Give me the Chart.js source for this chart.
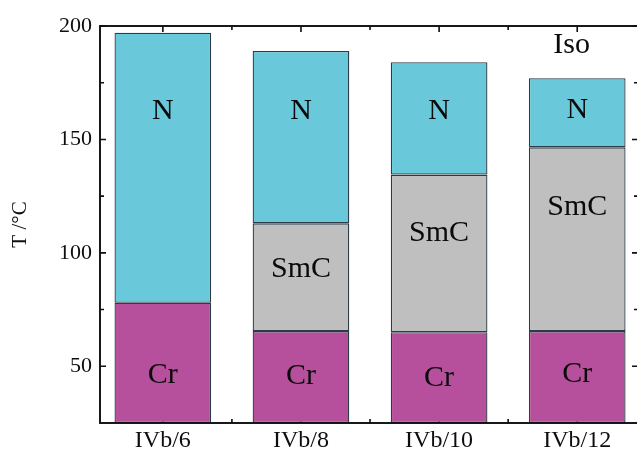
<!DOCTYPE html>
<html>
<head>
<meta charset="utf-8">
<script src="https://cdn.jsdelivr.net/npm/chart.js@4.4.1/dist/chart.umd.min.js"></script>
<style>
  html, body { margin: 0; padding: 0; background: #ffffff; overflow: hidden; width: 637px; height: 450px; }
  canvas { display: block; }
</style>
</head>
<body>
<canvas id="c" width="646" height="450"></canvas>
<script>
// ---- data ----
const categories = ['IVb/6', 'IVb/8', 'IVb/10', 'IVb/12'];
const categoryX = [1, 2, 3, 4];
const baseT = 25;                        // bottom of the axis (bars start here)
const crTop = [78, 65.5, 65, 65.5];      // Cr -> next phase (°C)
const smcTop = [null, 113, 134.5, 146.5]; // SmC -> N (°C)
const nTop = [197, 189, 184, 177];       // N -> Iso (°C)
const yTicks = [50, 100, 150, 200];
const yMinorTicks = [75, 125, 175];
// where each phase label sits (temperature, °C)
const crLabelAt = [46, 45.5, 45, 46.5];
const smcLabelAt = [null, 93, 108.5, 120];
const nLabelAt = [162.5, 162.5, 162.5, 163];
const isoLabel = { text: 'Iso', x: 3.96, t: 191.5 };

// ---- build floating bars ----
const crData = categoryX.map((x, i) => ({ x, y: [baseT, crTop[i]] }));
const smcData = categoryX.map((x, i) => ({ x, y: smcTop[i] == null ? null : [crTop[i], smcTop[i]] }));
const nData = categoryX.map((x, i) => ({ x, y: [smcTop[i] == null ? crTop[i] : smcTop[i], nTop[i]] }));

const SERIF = '"Liberation Serif", "DejaVu Serif", serif';
const INK = '#0e0e0e';
const BORDER = '#2c3c46';

const phaseLabels = [
  { text: 'Cr', at: crLabelAt },
  { text: 'SmC', at: smcLabelAt },
  { text: 'N', at: nLabelAt }
];

const framePlugin = {
  id: 'frame',
  beforeDatasetsDraw(chart) {
    const { ctx, chartArea: a, scales: { x, y } } = chart;
    ctx.save();
    ctx.strokeStyle = INK;
    ctx.lineWidth = 1.6;
    ctx.beginPath();
    yTicks.forEach(v => {
      const py = y.getPixelForValue(v);
      ctx.moveTo(a.left, py); ctx.lineTo(a.left + 6, py);
      ctx.moveTo(a.right, py); ctx.lineTo(a.right - 6, py);
    });
    yMinorTicks.forEach(v => {
      const py = y.getPixelForValue(v);
      ctx.moveTo(a.left, py); ctx.lineTo(a.left + 4, py);
      ctx.moveTo(a.right, py); ctx.lineTo(a.right - 4, py);
    });
    categoryX.forEach(v => {
      const px = x.getPixelForValue(v);
      ctx.moveTo(px, a.top); ctx.lineTo(px, a.top + 6);
      ctx.moveTo(px, a.bottom); ctx.lineTo(px, a.bottom - 6);
    });
    categoryX.slice(0, -1).forEach(v => {
      const px = x.getPixelForValue(v + 0.5);
      ctx.moveTo(px, a.top); ctx.lineTo(px, a.top + 4);
      ctx.moveTo(px, a.bottom); ctx.lineTo(px, a.bottom - 4);
    });
    ctx.stroke();
    ctx.restore();
  },
  afterDatasetsDraw(chart) {
    const { ctx, chartArea: a, scales: { x, y } } = chart;
    ctx.save();
    ctx.strokeStyle = INK;
    ctx.lineWidth = 1.9;
    ctx.strokeRect(a.left, a.top, a.right - a.left, a.bottom - a.top);
    ctx.fillStyle = '#0a0a0a';
    ctx.textAlign = 'center';
    ctx.textBaseline = 'middle';
    ctx.font = '30px ' + SERIF;
    phaseLabels.forEach((pl, di) => {
      const meta = chart.getDatasetMeta(di);
      pl.at.forEach((t, j) => {
        if (t == null) return;
        const el = meta.data[j];
        ctx.fillText(pl.text, el.x, y.getPixelForValue(t));
      });
    });
    ctx.fillText(isoLabel.text, x.getPixelForValue(isoLabel.x), y.getPixelForValue(isoLabel.t));
    ctx.restore();
  }
};

const barCommon = {
  grouped: false,
  borderWidth: 1.3,
  borderColor: BORDER,
  borderSkipped: false,
  barPercentage: 0.70,
  categoryPercentage: 1.0
};

new Chart(document.getElementById('c'), {
  type: 'bar',
  data: {
    datasets: [
      Object.assign({ label: 'Cr', data: crData, backgroundColor: '#b6509c' }, barCommon),
      Object.assign({ label: 'SmC', data: smcData, backgroundColor: '#bfbfbf' }, barCommon),
      Object.assign({ label: 'N', data: nData, backgroundColor: '#69c9da' }, barCommon)
    ]
  },
  options: {
    responsive: false,
    animation: false,
    devicePixelRatio: 1,
    layout: { padding: { left: 0, top: 26, right: 8, bottom: 0 } },
    plugins: { legend: { display: false }, tooltip: { enabled: false } },
    scales: {
      x: {
        type: 'linear',
        offset: false,
        min: 0.545,
        max: 4.44,
        afterBuildTicks: s => { s.ticks = categoryX.map(v => ({ value: v })); },
        afterFit: s => { s.height = 27; },
        grid: { display: false, drawTicks: false, offset: false },
        border: { display: false },
        ticks: {
          callback: (v, i) => categories[i],
          font: { family: SERIF, size: 24 },
          color: INK,
          padding: 3,
          maxRotation: 0,
          autoSkip: false
        }
      },
      y: {
        min: baseT,
        max: 200,
        afterBuildTicks: s => { s.ticks = yTicks.map(v => ({ value: v })); },
        afterFit: s => { s.width = 100; },
        grid: { display: false, drawTicks: false },
        border: { display: false },
        title: {
          display: true,
          text: 'T /°C',
          font: { family: SERIF, size: 21 },
          color: INK,
          padding: { top: 8, bottom: 0 }
        },
        ticks: {
          font: { family: SERIF, size: 22 },
          color: INK,
          padding: 8
        }
      }
    }
  },
  plugins: [framePlugin]
});
</script>
</body>
</html>
